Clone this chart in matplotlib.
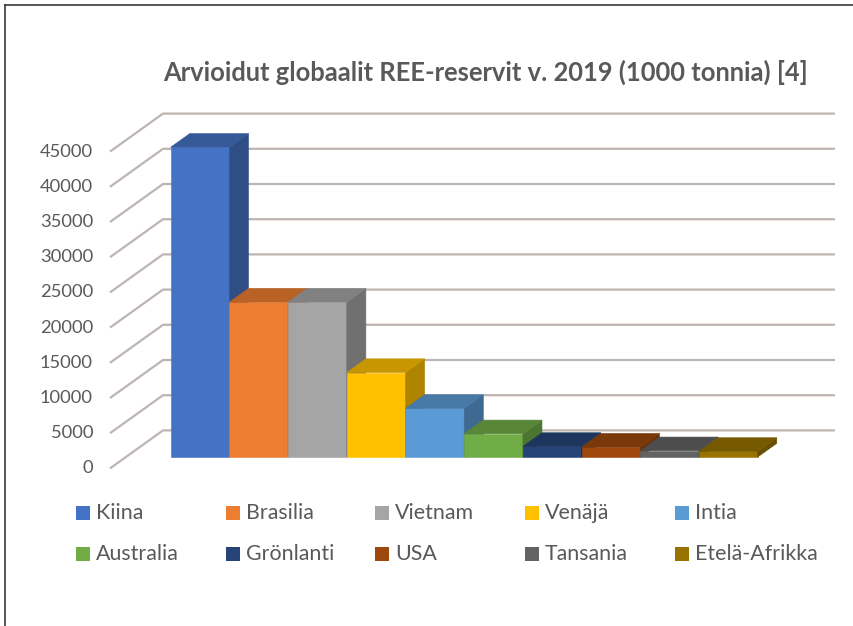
import matplotlib
matplotlib.use("Agg")
import matplotlib.pyplot as plt
from matplotlib.patches import Polygon, Rectangle
from matplotlib.lines import Line2D
from matplotlib.colors import to_rgb

# REE reserves 2019 (1000 t)
countries = ["Kiina", "Brasilia", "Vietnam", "Venäjä", "Intia",
             "Australia", "Grönlanti", "USA", "Tansania", "Etelä-Afrikka"]
reserves = [44000, 22000, 22000, 12000, 6900, 3300, 1500, 1400, 890, 790]
colors = ["#4472C4", "#ED7D31", "#A5A5A5", "#FFC000", "#5B9BD5",
          "#70AD47", "#264478", "#9E480E", "#636363", "#997300"]
yticks = list(range(0, 45001, 5000))
title = "Arvioidut globaalit REE-reservit v. 2019 (1000 tonnia) [4]"

FONT = ["Lato", "DejaVu Sans"]
TEXT_COLOR = "#595959"
GRID_COLOR = "#BDB5B2"

W, H, DPI = 854, 626, 100
fig = plt.figure(figsize=(W / DPI, H / DPI), dpi=DPI)
fig.patch.set_facecolor("white")

# Layout of the bar front plane in pixels
bar_x0 = 170.7        # left edge of first bar
bar_w = 58.7          # width of one category
base_y = 457.0        # baseline (px from top)
ppu = 35.2 / 5000     # pixels per value unit

xlim = (-1.8, 11.6)
ylim = (-3000, 52000)
left_px = bar_x0 + xlim[0] * bar_w
right_px = bar_x0 + xlim[1] * bar_w
bottom_px = base_y - ylim[0] * ppu
top_px = base_y - ylim[1] * ppu
ax = fig.add_axes([left_px / W, 1 - bottom_px / H,
                   (right_px - left_px) / W, (bottom_px - top_px) / H])
ax.set_xlim(xlim)
ax.set_ylim(ylim)
ax.axis("off")

# Oblique depth: full depth of the plot box
DX = 53 / bar_w
DY = 38 / ppu
d_front, d_back = 0.30, 0.66   # depth span of the bars


def P(x, v, d):
    """Project point (x, value, depth) onto the bar front plane."""
    return (x + (d - d_front) * DX, v + (d - d_front) * DY)


wall_left = -0.763
wall_right = 10.685

# Gridlines: diagonal on the side wall, then along the back wall
for v in yticks:
    p0, p1, p2 = P(wall_left, v, 0), P(wall_left, v, 1), P(wall_right, v, 1)
    ax.plot([p0[0], p1[0], p2[0]], [p0[1], p1[1], p2[1]],
            color=GRID_COLOR, lw=1.6, zorder=1, solid_capstyle="butt")
    ax.annotate(f"{v}", xy=p0, xytext=(-17, 0), textcoords="offset pixels",
                ha="right", va="center", fontsize=13.2, color=TEXT_COLOR,
                family=FONT)


def shade(c, f):
    r, g, b = to_rgb(c)
    return (r * f, g * f, b * f)


# 3D columns
for i, (v, c) in enumerate(zip(reserves, colors)):
    ax.bar(i, v, width=1, align="edge", color=c, edgecolor=c, lw=0.4,
           zorder=2)
    side = [P(i + 1, 0, d_front), P(i + 1, 0, d_back),
            P(i + 1, v, d_back), P(i + 1, v, d_front)]
    top = [P(i, v, d_front), P(i + 1, v, d_front),
           P(i + 1, v, d_back), P(i, v, d_back)]
    sc = shade(c, 0.68)
    tc = shade(c, 0.78)
    ax.add_patch(Polygon(side, closed=True, facecolor=sc, edgecolor=sc,
                         lw=0.4, zorder=2))
    ax.add_patch(Polygon(top, closed=True, facecolor=tc, edgecolor=tc,
                         lw=0.4, zorder=2))

# Title
fig.text(486 / W, 1 - 72 / H, title, ha="center", va="center",
         fontsize=18.4, fontweight="bold", color=TEXT_COLOR, family=FONT)

# Legend: two rows of five entries
leg_x0, leg_dx = 76, 149.7
leg_y0, leg_dy = 513, 41
sq = 14
for k, (name, c) in enumerate(zip(countries, colors)):
    row, col = divmod(k, 5)
    x = leg_x0 + col * leg_dx
    y = leg_y0 + row * leg_dy
    fig.add_artist(Rectangle((x / W, 1 - (y + sq / 2) / H), sq / W, sq / H,
                             transform=fig.transFigure, facecolor=c,
                             edgecolor="none"))
    fig.text((x + 20) / W, 1 - y / H, name, ha="left", va="center",
             fontsize=15.4, color=TEXT_COLOR, family=FONT)

# Chart frame (top and left edges)
fig.add_artist(Line2D([5 / W, 5 / W], [0, 1 - 5 / H],
                      transform=fig.transFigure, color="#3A3A3A", lw=1.2))
fig.add_artist(Line2D([5 / W, 1], [1 - 5 / H, 1 - 5 / H],
                      transform=fig.transFigure, color="#3A3A3A", lw=1.2))

fig.savefig("out.png", dpi=DPI)
